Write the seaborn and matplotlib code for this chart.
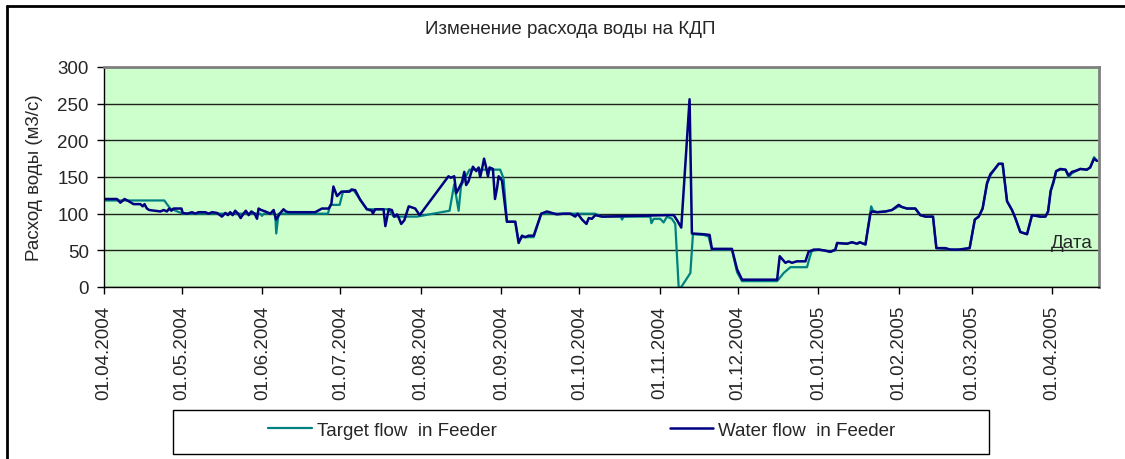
import pandas as pd
import matplotlib
matplotlib.use('Agg')
import matplotlib.pyplot as plt
import matplotlib.dates as mdates
import seaborn as sns
from matplotlib.lines import Line2D
from matplotlib.patches import Rectangle

# ---- data ----
start = pd.Timestamp('2004-04-01')
end = pd.Timestamp('2005-04-19')

# days since 01.04.2004
water_day = [0, 5, 6.3, 7.9, 9.5, 11.4, 14, 14.9, 15.6, 16.5,
             17.4, 21.7, 23, 24.2, 25.1, 25.9, 26.8, 29.8, 30.3, 32,
             33.9, 35.1, 36.4, 39, 40.3, 41.6, 43.5, 45.4, 46.7, 47.7,
             48.6, 49.5, 50.5, 51.6, 52.6, 53.7, 54.6, 55.7, 56.7, 58,
             58.9, 59.5, 60.5, 62.1, 64, 65.3, 66.2, 67.9, 69.1, 70,
             71.1, 81.3, 83.9, 86.5, 87.5, 88.3, 89.7, 91.4, 94.5, 95.3,
             96.7, 98.6, 101.2, 103.1, 103.5, 104.4, 107.6, 108.3, 109.6, 110.8,
             111.7, 112.8, 113.4, 114.4, 115.6, 117.3, 119.8, 121.5, 132.6, 133.5,
             134.8, 135.6, 136.8, 137.8, 138.7, 139.4, 140.3, 142, 143.3, 144.2,
             144.8, 145.5, 146.3, 147.1, 147.8, 148.4, 149.7, 150.5, 151.3, 151.9,
             153.2, 155.1, 158.3, 159.6, 160.9, 162.2, 163.4, 165.4, 168.3, 170.5,
             174.3, 176.9, 179.5, 181.4, 182.3, 184, 185.7, 186.6, 187.8, 189.1,
             191.7, 216.7, 219.3, 220.6, 222.2, 225.4, 226.3, 230.6, 233.1, 234,
             241.7, 243.7, 245.6, 259.1, 260.1, 262.3, 263.5, 264.8, 266.7, 270,
             271.2, 273.2, 275.1, 277, 279.6, 281.5, 282.2, 286, 287.9, 289.9,
             290.9, 293.1, 295, 295.6, 297.6, 300.8, 303.3, 305.9, 307.2, 309.1,
             312.3, 314.2, 316.2, 319.1, 320.4, 323.9, 325.8, 329, 333.2, 335.2,
             336.7, 338.2, 339.9, 341.2, 342.9, 344.4, 345.9, 347.6, 349.5, 350.8,
             352.7, 355.3, 357.2, 360.4, 362.4, 363.4, 364.4, 365.5, 366.5, 368.1,
             370.1, 371.3, 372.6, 374.5, 375.8, 378.3, 379.6, 381.1, 382.2]
water_flow = [120, 120, 115, 120, 117, 113, 113, 110, 113, 107,
              105, 103, 105, 103, 107, 104, 107, 107, 101, 100,
              102, 100, 102, 102, 100, 102, 101, 96, 101, 98,
              102, 98, 104, 100, 94, 100, 104, 98, 103, 100,
              93, 107, 105, 103, 100, 105, 92, 101, 106, 103,
              102, 102, 107, 107, 113, 137, 124, 130, 130, 133,
              132, 119, 106, 104, 100, 106, 106, 83, 106, 105,
              96, 99, 95, 86, 91, 110, 107, 98, 151, 149,
              151, 128, 136, 143, 157, 139, 144, 164, 158, 163,
              150, 161, 175, 163, 151, 163, 161, 120, 135, 151,
              145, 89, 89, 60, 70, 68, 70, 70, 100, 103,
              99, 100, 100, 96, 100, 92, 86, 94, 93, 98,
              96, 98, 98, 91, 81, 256, 73, 72, 71, 52,
              52, 24, 10, 10, 42, 33, 35, 33, 35, 35,
              48, 51, 51, 50, 48, 51, 60, 59, 61, 59,
              61, 58, 100, 103, 102, 103, 105, 112, 109, 107,
              107, 98, 96, 96, 53, 53, 51, 51, 53, 92,
              96, 107, 142, 154, 161, 168, 168, 117, 105, 94,
              75, 72, 98, 96, 96, 103, 131, 144, 158, 161,
              160, 152, 157, 159, 161, 160, 163, 175, 172]

target_day = [0, 23.2, 25.5, 30.3, 60.2, 60.8, 61.5, 65.9, 66.3, 67.2,
              86.2, 87.1, 90.7, 92, 96.1, 101.2, 109.6, 111.5, 120.5, 133,
              134.8, 136.5, 137.4, 138.4, 140.7, 152.5, 153.8, 155.1, 158.3, 159.6,
              160.9, 165.4, 168.3, 189, 191.7, 199, 199.4, 200, 210.3, 210.7,
              211.6, 214.1, 215.4, 216.7, 218.6, 219.9, 221.2, 222.2, 225.7, 226.7,
              230.8, 232.7, 234, 241.7, 243.7, 245.6, 259.1, 261.6, 264.2, 270.6,
              271.6, 272.4, 275.1, 277, 279.6, 281.5, 282.2, 286, 287.9, 289.9,
              290.9, 293.1, 295.3, 296, 297.6, 300.8, 303.3, 305.9, 307.2, 309.1,
              312.3, 314.2, 316.2, 319.1, 320.4, 323.9, 325.8, 329, 333.2, 335.2,
              336.7, 338.2, 339.9, 341.2, 342.9, 344.4, 345.9, 347.6, 349.5, 350.8,
              352.7, 355.3, 357.2, 360.4, 362.4, 363.4, 364.4, 365.5, 366.5, 368.1,
              370.1, 371.3, 372.6, 374.5, 375.8, 378.3, 379.6, 381.1, 382.2]
target_flow = [118, 118, 107, 100, 100, 97, 100, 100, 73, 100,
               100, 112, 112, 130, 132, 106, 106, 96, 96, 104,
               140, 104, 137, 145, 160, 160, 148, 89, 89, 63,
               68, 68, 100, 100, 96, 96, 92, 96, 96, 87,
               93, 93, 88, 96, 93, 86, 0, 0, 19, 72,
               71, 69, 51, 51, 20, 8, 8, 19, 27, 27,
               40, 49, 51, 50, 48, 50, 60, 59, 61, 59,
               61, 58, 110, 104, 102, 103, 105, 110, 109, 107,
               107, 98, 96, 96, 53, 52, 51, 51, 53, 92,
               96, 107, 140, 152, 161, 168, 168, 117, 105, 94,
               75, 72, 98, 96, 96, 103, 131, 142, 158, 160,
               160, 150, 155, 159, 161, 160, 163, 177, 172]

water = pd.DataFrame({'date': start + pd.to_timedelta(water_day, unit='D'),
                      'flow': water_flow})
target = pd.DataFrame({'date': start + pd.to_timedelta(target_day, unit='D'),
                       'flow': target_flow})
month_ticks = pd.date_range('2004-04-01', '2005-04-01', freq='MS')

# ---- style ----
sns.set_style('white')
plt.rcParams['font.family'] = ['Liberation Sans', 'DejaVu Sans']
fs = 13.5

fig = plt.figure(figsize=(11.25, 4.6), dpi=100)
ax = fig.add_axes([104 / 1125, 1 - 288 / 460, 995 / 1125, 220 / 460])
ax.set_facecolor('#ccffcc')

sns.lineplot(data=target, x='date', y='flow', ax=ax, color='#008080', lw=1.6,
             estimator=None, label='Target flow  in Feeder')
sns.lineplot(data=water, x='date', y='flow', ax=ax, color='#000080', lw=1.8,
             estimator=None, label='Water flow  in Feeder')

ax.set_xlim(start, end)
ax.set_ylim(0, 300)
ax.set_yticks(range(0, 301, 50))
ax.set_xticks(month_ticks)
ax.xaxis.set_major_formatter(mdates.DateFormatter('%d.%m.%Y'))
ax.tick_params(axis='x', rotation=90, labelsize=fs, direction='out', length=5,
               width=1, color='black', bottom=True, pad=8)
ax.tick_params(axis='y', labelsize=fs, direction='out', length=5, width=1,
               color='black', left=True, pad=6)
ax.yaxis.grid(True, color='#202020', lw=1)
ax.xaxis.grid(False)
ax.set_xlabel('')
ax.set_ylabel('')

for s in ['left', 'bottom']:
    ax.spines[s].set_color('black')
    ax.spines[s].set_linewidth(1)
for s in ['top', 'right']:
    ax.spines[s].set_color('#808080')
    ax.spines[s].set_linewidth(2)

# texts
fig.text(570 / 1125, 1 - 30 / 460, 'Изменение расхода воды на КДП',
         ha='center', va='center', fontsize=fs)
fig.text(35 / 1125, 1 - 178 / 460, 'Расход воды (м3/с)', rotation=90,
         ha='center', va='center', fontsize=fs)
fig.text(1093 / 1125, 1 - 248 / 460, 'Дата', ha='right', va='baseline',
         fontsize=fs)

# legend at the bottom in its own box
handles, labels = ax.get_legend_handles_labels()
ax.get_legend().remove()
fig.patches.append(Rectangle((173 / 1125, 1 - 455 / 460), 816 / 1125, 44 / 460,
                             transform=fig.transFigure, fill=False,
                             edgecolor='black', lw=1))
fig.legend(handles, labels, loc='center', bbox_to_anchor=(582 / 1125, 1 - 431 / 460),
           ncol=2, frameon=False, fontsize=fs, handlelength=2.3,
           handletextpad=0.3, columnspacing=9.2)

# outer chart border (left and top)
fig.add_artist(Line2D([7 / 1125, 7 / 1125], [0, 1 - 7 / 460], color='black',
                      lw=2, transform=fig.transFigure))
fig.add_artist(Line2D([7 / 1125, 1], [1 - 7 / 460, 1 - 7 / 460], color='black',
                      lw=2, transform=fig.transFigure))

fig.savefig('out.png', dpi=100)
